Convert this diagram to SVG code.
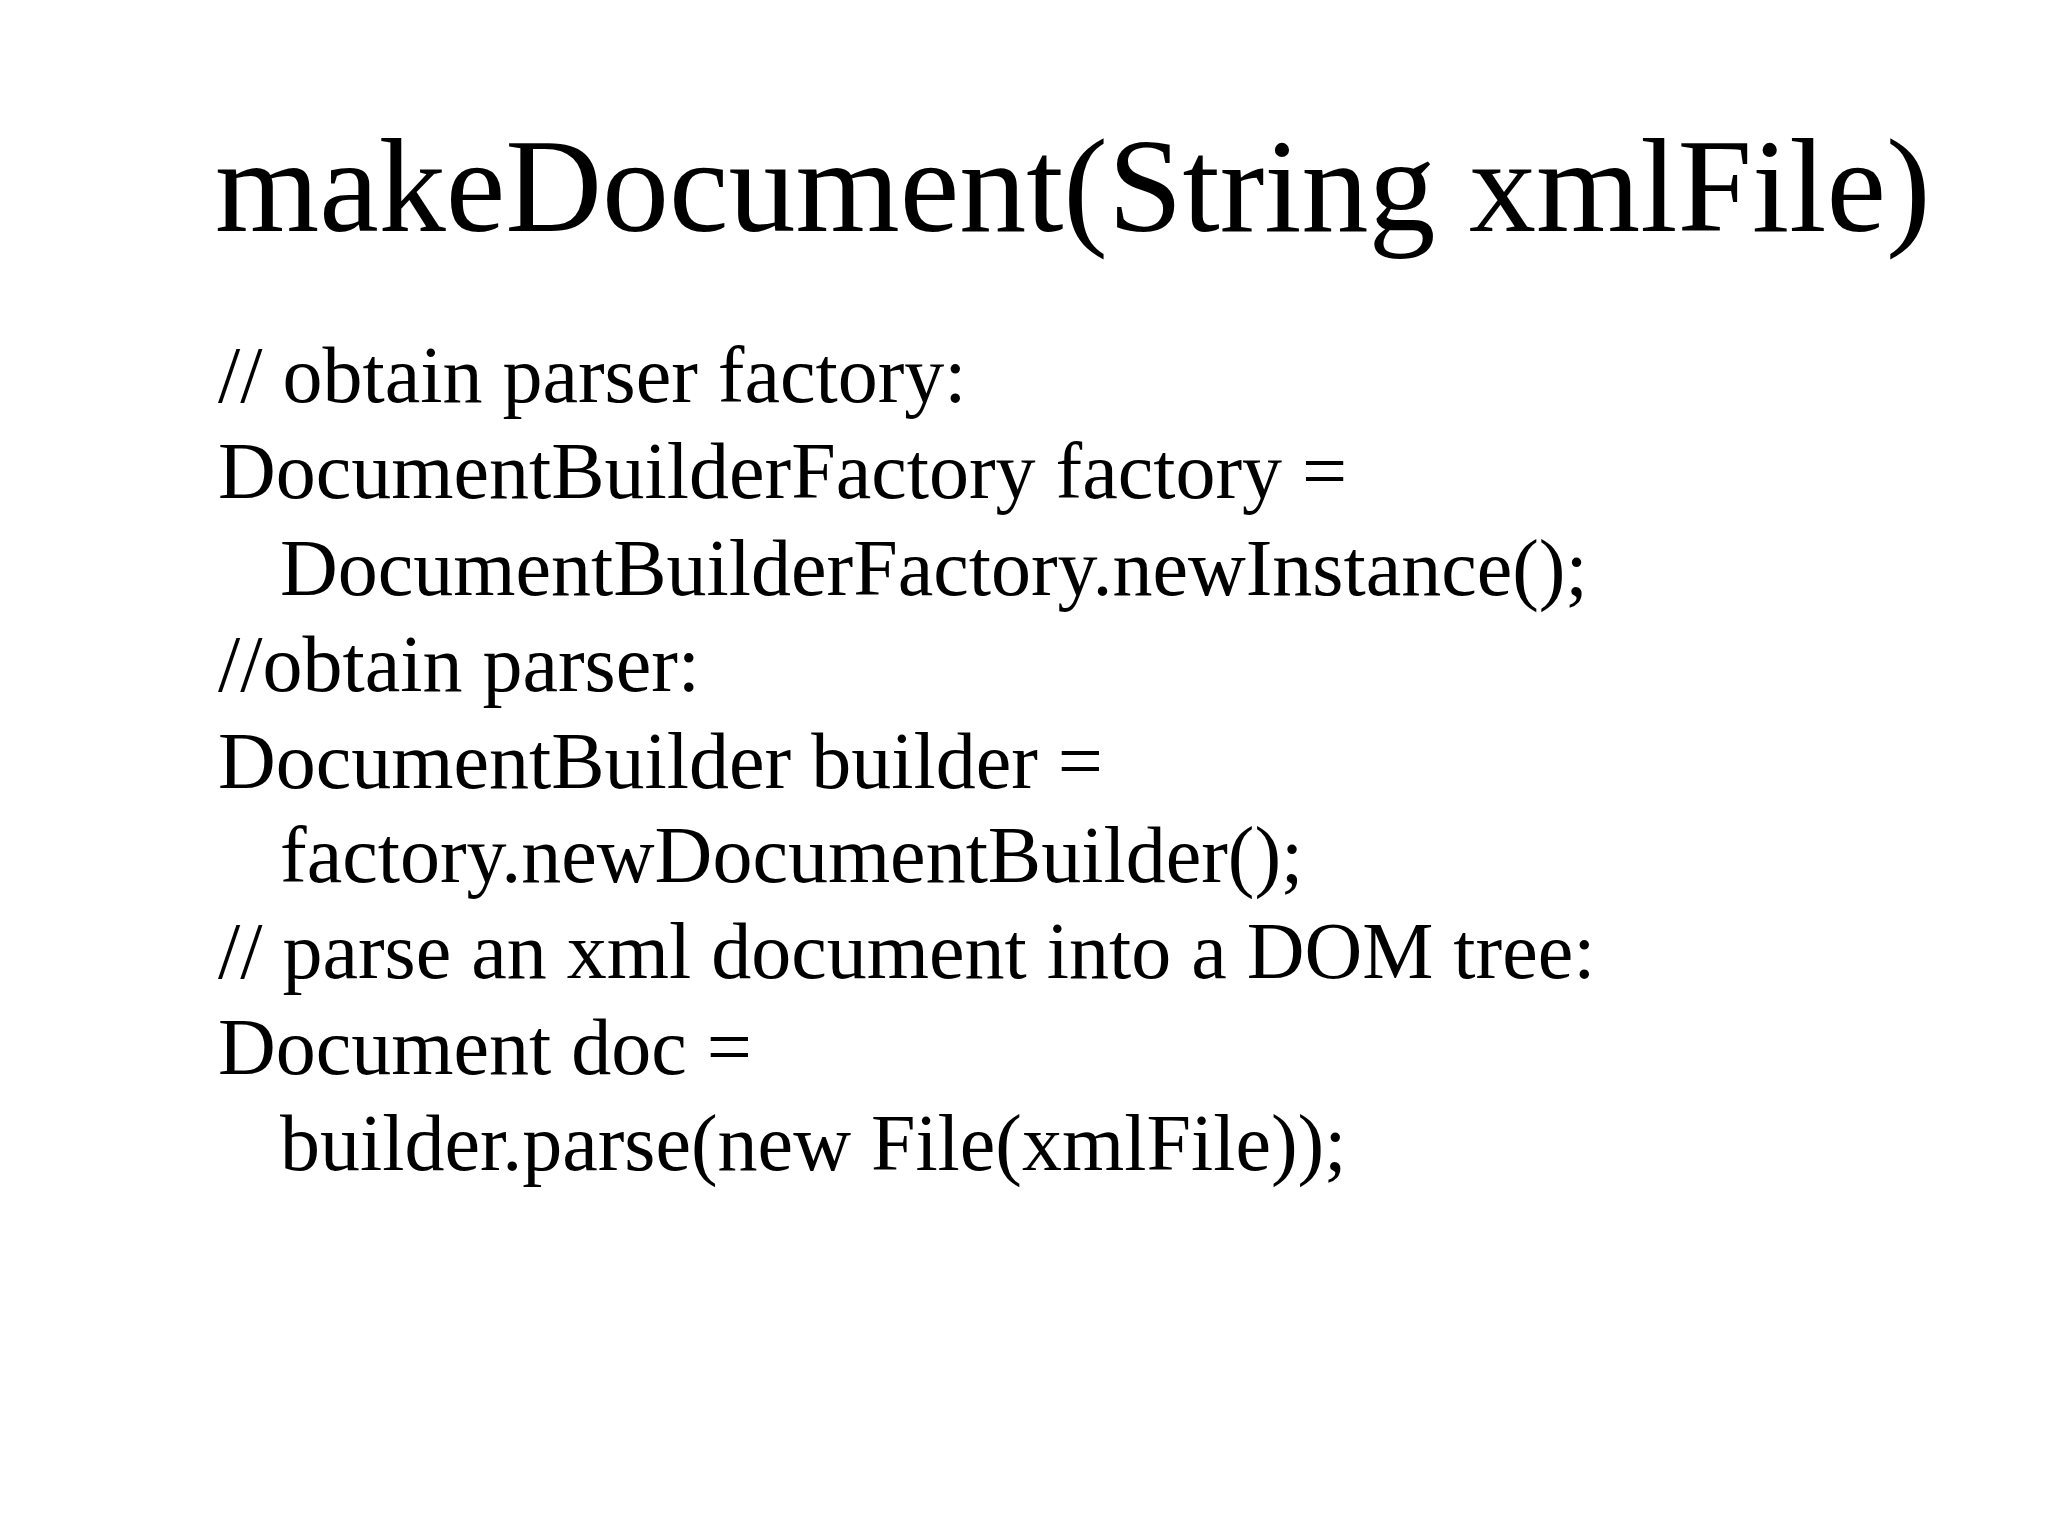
<svg xmlns="http://www.w3.org/2000/svg" width="2048" height="1536" viewBox="0 0 2048 1536">
<style>
text{font-family:"Liberation Serif","Times New Roman",serif;fill:#000}
.t{font-size:134px}
.b{font-size:80px}
</style>
<rect width="2048" height="1536" fill="#fff"/>
<g id="title"><text class="t" x="215" y="231">makeDocument(String xmlFile)</text></g>
<g id="body" class="b">
<text class="b" x="218" y="402">// obtain parser factory:</text>
<text class="b" x="218" y="498">DocumentBuilderFactory factory =</text>
<text class="b" x="280" y="595">DocumentBuilderFactory.newInstance();</text>
<text class="b" x="218" y="691">//obtain parser:</text>
<text class="b" x="218" y="788">DocumentBuilder builder =</text>
<text class="b" x="280" y="882">factory.newDocumentBuilder();</text>
<text class="b" x="218" y="978">// parse an xml document into a DOM tree:</text>
<text class="b" x="218" y="1074">Document doc =</text>
<text class="b" x="280" y="1170">builder.parse(new File(xmlFile));</text>
</g>
</svg>
